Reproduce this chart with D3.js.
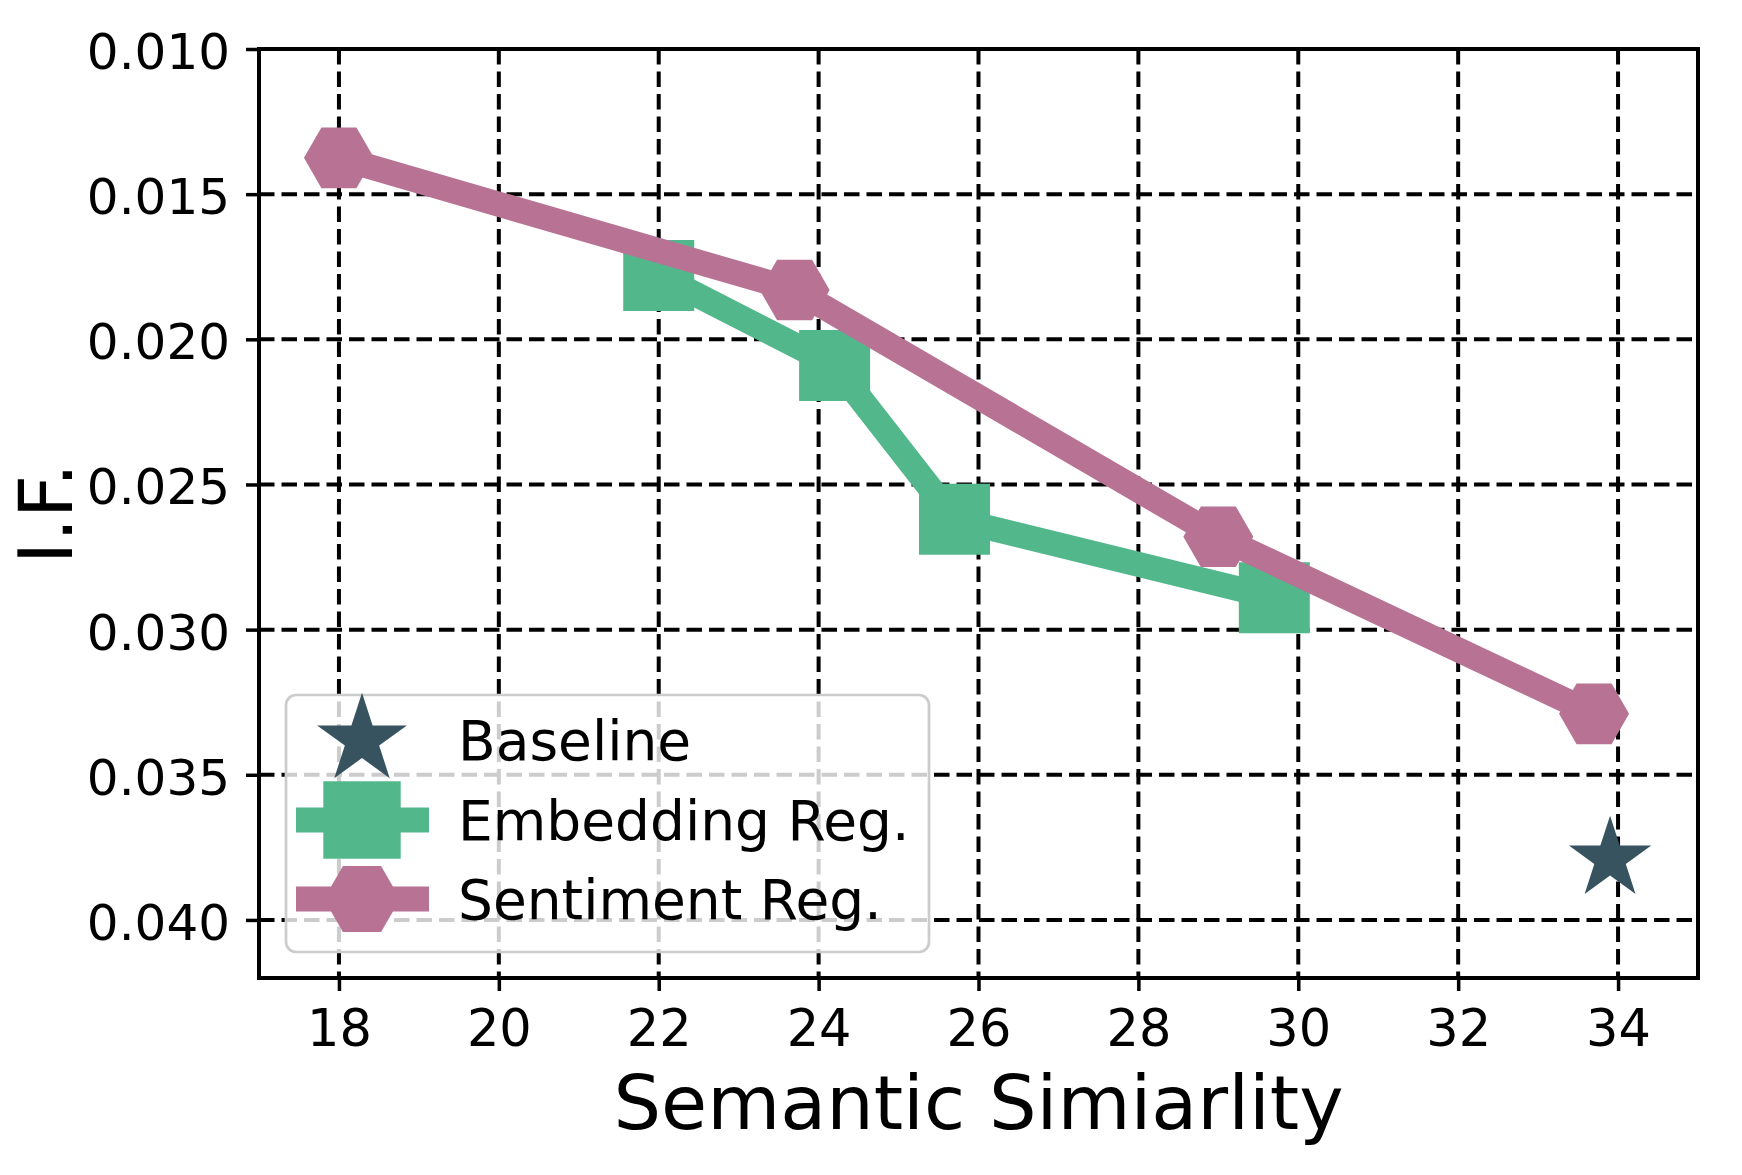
<!DOCTYPE html>
<html>
<head>
<meta charset="utf-8">
<script src="https://cdn.jsdelivr.net/npm/d3@7"></script>
<style>
  body { margin: 0; background: #fff; }
  text { font-family: "DejaVu Sans", sans-serif; fill: #000; }
</style>
</head>
<body>
<div id="chart"></div>
<script>
// data
var xTicks = [18, 20, 22, 24, 26, 28, 30, 32, 34];
var yTicks = [0.010, 0.015, 0.020, 0.025, 0.030, 0.035, 0.040];

var baselineX = [33.9];
var baselineY = [0.0379];

var embedX = [22.0, 24.2, 25.7, 29.7];
var embedY = [0.0178, 0.0209, 0.0262, 0.0289];

var sentX = [18.0, 23.7, 29.0, 33.7];
var sentY = [0.01375, 0.0183, 0.0268, 0.0329];

var seriesNames = ["Baseline", "Embedding Reg.", "Sentiment Reg."];
var colors = ["#37535f", "#52b78b", "#b87394"];

var width = 1742;
var height = 1175;
// plot area (note: "top" is a reserved window prop, so prefix these)
var pLeft = 259, pRight = 1698, pTop = 49, pBottom = 978;

var svg = d3.select("#chart").append("svg")
    .attr("width", width)
    .attr("height", height);

var x = d3.scaleLinear().domain([17, 35]).range([pLeft, pRight]);
// y axis is inverted: small values at the top
var y = d3.scaleLinear().domain([0.010, 0.042]).range([pTop, pBottom]);

// grid
var grid = svg.append("g");
grid.selectAll(".vgrid").data(xTicks).enter().append("line")
    .attr("x1", d => x(d)).attr("x2", d => x(d))
    .attr("y1", pTop).attr("y2", pBottom)
    .attr("stroke", "#000").attr("stroke-width", 4)
    .attr("stroke-dasharray", "15.5,7");
grid.selectAll(".hgrid").data(yTicks).enter().append("line")
    .attr("x1", pLeft).attr("x2", pRight)
    .attr("y1", d => y(d)).attr("y2", d => y(d))
    .attr("stroke", "#000").attr("stroke-width", 4)
    .attr("stroke-dasharray", "15.5,7");

// marker shapes
function hexPath(r) {
  var pts = d3.range(6).map(function(i) {
    var a = i * Math.PI / 3;
    return [r * Math.cos(a), r * Math.sin(a)];
  });
  return "M" + pts.join("L") + "Z";
}
function starPath(r) {
  return d3.symbol(d3.symbolStar, r * r / 0.8908130915292852)();
}
function squarePath(s) {
  return d3.symbol(d3.symbolSquare, s * s)();
}

var line = d3.line();

// baseline star
svg.selectAll(".star").data(baselineX).enter().append("path")
    .attr("d", starPath(43.3))
    .attr("transform", (d, i) => "translate(" + x(d) + "," + y(baselineY[i]) + ")")
    .attr("fill", colors[0]);

// embedding reg
svg.append("path")
    .attr("d", line(embedX.map((d, i) => [x(d), y(embedY[i])])))
    .attr("fill", "none")
    .attr("stroke", colors[1])
    .attr("stroke-width", 25)
    .attr("stroke-linejoin", "round");
svg.selectAll(".sq").data(embedX).enter().append("path")
    .attr("d", squarePath(71))
    .attr("transform", (d, i) => "translate(" + x(d) + "," + y(embedY[i]) + ")")
    .attr("fill", colors[1]);

// sentiment reg
svg.append("path")
    .attr("d", line(sentX.map((d, i) => [x(d), y(sentY[i])])))
    .attr("fill", "none")
    .attr("stroke", colors[2])
    .attr("stroke-width", 25)
    .attr("stroke-linejoin", "round");
svg.selectAll(".hex").data(sentX).enter().append("path")
    .attr("d", hexPath(35))
    .attr("transform", (d, i) => "translate(" + x(d) + "," + y(sentY[i]) + ")")
    .attr("fill", colors[2]);

// axes
var xAxis = svg.append("g")
    .attr("transform", "translate(0," + pBottom + ")")
    .call(d3.axisBottom(x).tickValues(xTicks).tickSize(13).tickSizeOuter(0));
xAxis.select(".domain").remove();
xAxis.selectAll("line").attr("stroke-width", 3.5);
xAxis.selectAll("text")
    .attr("dy", null).attr("y", 68)
    .style("font-size", "51px").style("font-family", "DejaVu Sans");

var yAxis = svg.append("g")
    .attr("transform", "translate(" + pLeft + ",0)")
    .call(d3.axisLeft(y).tickValues(yTicks).tickSize(13).tickSizeOuter(0).tickFormat(d3.format(".3f")));
yAxis.select(".domain").remove();
yAxis.selectAll("line").attr("stroke-width", 3.5);
yAxis.selectAll("text")
    .attr("x", -29).attr("dy", "0.39em")
    .style("font-size", "50px").style("font-family", "DejaVu Sans");

// frame
svg.append("rect")
    .attr("x", pLeft).attr("y", pTop)
    .attr("width", pRight - pLeft).attr("height", pBottom - pTop)
    .attr("fill", "none").attr("stroke", "#000").attr("stroke-width", 4);

// axis labels
svg.append("text")
    .attr("x", (pLeft + pRight) / 2).attr("y", 1129)
    .attr("text-anchor", "middle")
    .style("font-size", "75px")
    .text("Semantic Simiarlity");
svg.append("text")
    .attr("transform", "translate(72," + (pTop + pBottom) / 2 + ") rotate(-90)")
    .attr("text-anchor", "middle")
    .style("font-size", "75px")
    .text("I.F.");

// legend
var lg = svg.append("g");
lg.append("rect")
    .attr("x", 286).attr("y", 695)
    .attr("width", 643).attr("height", 257)
    .attr("rx", 10)
    .attr("fill", "#fff").attr("fill-opacity", 0.8)
    .attr("stroke", "#cccccc").attr("stroke-width", 2.7);

var rowY = [740, 820, 899];
var mk = 1.09;
// baseline row: marker only
lg.append("path").attr("d", starPath(43.3 * mk))
    .attr("transform", "translate(362," + rowY[0] + ")")
    .attr("fill", colors[0]);
// embedding row
lg.append("line").attr("x1", 296).attr("x2", 429)
    .attr("y1", rowY[1]).attr("y2", rowY[1])
    .attr("stroke", colors[1]).attr("stroke-width", 25);
lg.append("path").attr("d", squarePath(71 * mk))
    .attr("transform", "translate(362," + rowY[1] + ")")
    .attr("fill", colors[1]);
// sentiment row
lg.append("line").attr("x1", 296).attr("x2", 429)
    .attr("y1", rowY[2]).attr("y2", rowY[2])
    .attr("stroke", colors[2]).attr("stroke-width", 25);
lg.append("path").attr("d", hexPath(35 * mk))
    .attr("transform", "translate(362," + rowY[2] + ")")
    .attr("fill", colors[2]);

lg.selectAll(".lbl").data(seriesNames).enter().append("text")
    .attr("x", 458)
    .attr("y", (d, i) => rowY[i] + 20)
    .style("font-size", "55px")
    .text(d => d);
</script>
</body>
</html>
